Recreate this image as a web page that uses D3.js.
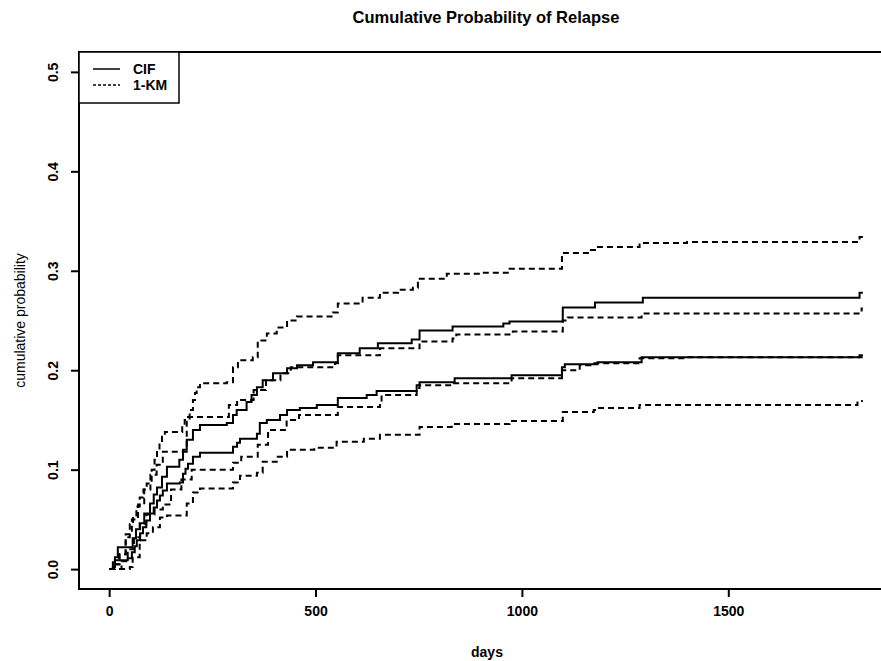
<!DOCTYPE html>
<html>
<head>
<meta charset="utf-8">
<script src="https://cdn.jsdelivr.net/npm/d3@7"></script>
<style>
  html, body { margin: 0; padding: 0; background: #fff; }
  svg { display: block; font-family: "Liberation Sans", Arial, Helvetica, sans-serif; }
</style>
</head>
<body>
<svg id="chart" width="881" height="661"></svg>
<script>
// Cumulative incidence (CIF, solid) and 1 - Kaplan-Meier (dashed) step curves, [day, probability]
const cifUpper = [[0,0],[9,0.007],[14,0.012],[21,0.022],[57,0.031],[65,0.04],[74,0.046],[85,0.056],[99,0.066],[108,0.075],[116,0.082],[128,0.093],[140,0.103],[170,0.11],[179,0.12],[188,0.13],[203,0.14],[220,0.145],[285,0.147],[300,0.155],[309,0.16],[333,0.168],[345,0.175],[358,0.183],[372,0.19],[397,0.197],[431,0.202],[455,0.205],[494,0.208],[554,0.217],[607,0.222],[651,0.227],[733,0.231],[752,0.24],[832,0.244],[955,0.247],[970,0.249],[1099,0.263],[1177,0.268],[1293,0.273],[1818,0.278],[1826,0.278]];
const cifLower = [[0,0],[9,0.002],[14,0.009],[45,0.011],[55,0.017],[62,0.023],[67,0.029],[75,0.036],[82,0.042],[90,0.049],[99,0.056],[108,0.062],[116,0.069],[123,0.074],[130,0.079],[140,0.086],[171,0.087],[179,0.096],[185,0.101],[191,0.106],[203,0.113],[220,0.117],[300,0.123],[310,0.127],[317,0.131],[358,0.136],[365,0.147],[382,0.15],[414,0.155],[431,0.16],[462,0.162],[503,0.165],[554,0.172],[624,0.175],[648,0.179],[745,0.185],[752,0.188],[837,0.192],[975,0.195],[1097,0.203],[1104,0.206],[1183,0.208],[1290,0.213],[1818,0.215],[1826,0.215]];
const kmTop = [[0,0],[10,0.005],[25,0.015],[40,0.032],[50,0.045],[58,0.054],[66,0.063],[74,0.072],[83,0.08],[91,0.086],[103,0.1],[110,0.11],[116,0.12],[122,0.127],[128,0.133],[135,0.138],[177,0.144],[183,0.15],[195,0.16],[203,0.17],[208,0.177],[212,0.183],[220,0.187],[285,0.188],[300,0.203],[312,0.21],[348,0.213],[360,0.23],[382,0.237],[406,0.243],[431,0.25],[455,0.254],[542,0.258],[554,0.267],[614,0.273],[656,0.278],[700,0.281],[736,0.283],[748,0.292],[818,0.297],[898,0.298],[970,0.302],[1097,0.318],[1164,0.321],[1181,0.324],[1285,0.328],[1400,0.329],[1818,0.334],[1826,0.334]];
const kmUpper = [[0,0],[14,0.005],[25,0.015],[40,0.035],[55,0.05],[70,0.065],[85,0.08],[100,0.095],[115,0.105],[130,0.118],[188,0.153],[290,0.165],[310,0.17],[350,0.18],[380,0.19],[415,0.197],[440,0.203],[547,0.207],[554,0.215],[656,0.222],[752,0.229],[832,0.232],[841,0.236],[978,0.239],[1099,0.25],[1111,0.253],[1290,0.257],[1823,0.262],[1826,0.262]];
const kmLowerA = [[0,0],[30,0.008],[45,0.02],[60,0.032],[75,0.045],[90,0.055],[110,0.06],[130,0.065],[150,0.08],[175,0.09],[200,0.1],[300,0.107],[320,0.113],[360,0.125],[385,0.14],[430,0.15],[460,0.155],[554,0.163],[656,0.168],[660,0.175],[745,0.182],[752,0.185],[832,0.187],[975,0.192],[1097,0.2],[1140,0.205],[1170,0.207],[1285,0.212],[1400,0.213],[1823,0.217],[1826,0.217]];
const kmBottom = [[0,0],[50,0.002],[57,0.012],[74,0.029],[91,0.036],[106,0.042],[123,0.052],[140,0.054],[188,0.066],[203,0.077],[220,0.081],[300,0.087],[317,0.094],[358,0.097],[372,0.108],[406,0.113],[431,0.12],[497,0.122],[551,0.128],[617,0.131],[656,0.135],[752,0.143],[830,0.146],[970,0.149],[1099,0.158],[1174,0.16],[1183,0.162],[1285,0.165],[1813,0.169],[1826,0.169]];

const xTicks = [0, 500, 1000, 1500];
const yTicks = [0, 0.1, 0.2, 0.3, 0.4, 0.5];
const legendLabels = ["CIF", "1-KM"];

const curves = [
  { data: kmTop, dashed: true },
  { data: kmUpper, dashed: true },
  { data: kmLowerA, dashed: true },
  { data: kmBottom, dashed: true },
  { data: cifUpper, dashed: false },
  { data: cifLower, dashed: false }
];

const svg = d3.select("#chart");
const DASH = "6,4";

// axis limits padded by 4% as in base graphics
const xMax = 1826, yMax = 0.5;
const x = d3.scaleLinear().domain([-0.04 * xMax, 1.04 * xMax]).range([79, 893]);
const y = d3.scaleLinear().domain([-0.04 * yMax, 1.04 * yMax]).range([589, 52]);

// title
svg.append("text")
  .attr("x", 486).attr("y", 23)
  .attr("text-anchor", "middle")
  .attr("font-size", 16.5).attr("font-weight", "bold")
  .text("Cumulative Probability of Relapse");

// curves
const line = d3.line()
  .x(d => x(d[0]))
  .y(d => y(d[1]))
  .curve(d3.curveStepAfter);

svg.append("g").selectAll("path")
  .data(curves)
  .join("path")
  .attr("d", d => line(d.data))
  .attr("fill", "none")
  .attr("stroke", "#000")
  .attr("stroke-width", 2)
  .attr("stroke-dasharray", d => d.dashed ? DASH : null);

// plot frame: left, top and bottom edges
const frame = svg.append("g").attr("stroke", "#000").attr("stroke-width", 2);
frame.append("line").attr("x1", 79).attr("x2", 79).attr("y1", 52).attr("y2", 590);
frame.append("line").attr("x1", 78).attr("x2", 881).attr("y1", 52).attr("y2", 52);
frame.append("line").attr("x1", 78).attr("x2", 881).attr("y1", 589).attr("y2", 589);

// x axis
const xAxis = svg.append("g").attr("transform", "translate(0,589)")
  .call(d3.axisBottom(x).tickValues(xTicks).tickSize(8).tickPadding(9).tickFormat(d3.format("d")));
xAxis.select(".domain").remove();
xAxis.selectAll("line").attr("stroke-width", 2);
xAxis.selectAll("text").attr("font-size", 14).attr("font-weight", "bold")
  .attr("font-family", "Liberation Sans, Arial, sans-serif");

// y axis with labels parallel to the axis
const yAxis = svg.append("g").attr("transform", "translate(79,0)")
  .call(d3.axisLeft(y).tickValues(yTicks).tickSize(8).tickFormat(d3.format(".1f")));
yAxis.select(".domain").remove();
yAxis.selectAll("line").attr("stroke-width", 2);
yAxis.selectAll("text")
  .attr("x", null).attr("dy", null)
  .attr("text-anchor", "middle")
  .attr("transform", "translate(-21,0) rotate(-90)")
  .attr("font-size", 14).attr("font-weight", "bold")
  .attr("font-family", "Liberation Sans, Arial, sans-serif");

// axis titles
svg.append("text")
  .attr("x", 487).attr("y", 657)
  .attr("text-anchor", "middle")
  .attr("font-size", 14).attr("font-weight", "bold")
  .text("days");
svg.append("text")
  .attr("transform", "translate(25,320.5) rotate(-90)")
  .attr("text-anchor", "middle")
  .attr("font-size", 14)
  .text("cumulative probability");

// legend
const lg = svg.append("g");
lg.append("rect")
  .attr("x", 79).attr("y", 52).attr("width", 100).attr("height", 51)
  .attr("fill", "#fff").attr("stroke", "#000").attr("stroke-width", 1.5);
legendLabels.forEach((lab, i) => {
  const ly = 69 + i * 16;
  lg.append("line")
    .attr("x1", 93).attr("x2", 120).attr("y1", ly).attr("y2", ly)
    .attr("stroke", "#000").attr("stroke-width", 1.5)
    .attr("stroke-dasharray", i === 1 ? "3,2" : null);
  lg.append("text")
    .attr("x", 133).attr("y", ly + 5)
    .attr("font-size", 14).attr("font-weight", "bold")
    .text(lab);
});
</script>
</body>
</html>
